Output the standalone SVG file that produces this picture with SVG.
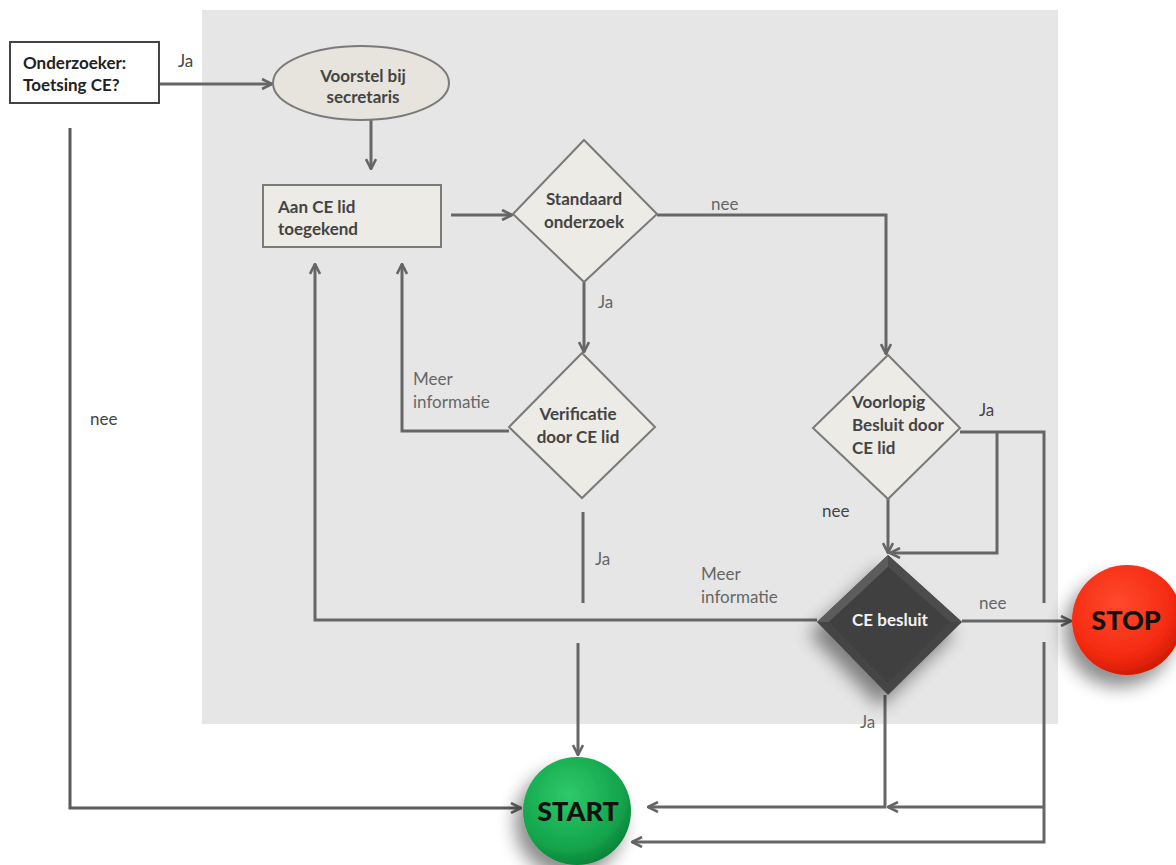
<svg xmlns="http://www.w3.org/2000/svg" width="1176" height="865" viewBox="0 0 1176 865">
<defs>
<marker id="arr" viewBox="0 0 12 12" refX="11" refY="6" markerWidth="12" markerHeight="12" markerUnits="userSpaceOnUse" orient="auto">
<path d="M1,1 L11,6 L1,11" fill="none" stroke="#666" stroke-width="2.6" stroke-linejoin="miter"/>
</marker>
<radialGradient id="gGreen" cx="0.42" cy="0.35" r="0.7">
<stop offset="0" stop-color="#2ec96a"/>
<stop offset="0.7" stop-color="#14a54c"/>
<stop offset="1" stop-color="#0b7d36"/>
</radialGradient>
<radialGradient id="gRed" cx="0.42" cy="0.35" r="0.7">
<stop offset="0" stop-color="#ff4a2e"/>
<stop offset="0.7" stop-color="#f42a10"/>
<stop offset="1" stop-color="#c81800"/>
</radialGradient>
<filter id="shadow" x="-50%" y="-50%" width="200%" height="200%">
<feGaussianBlur in="SourceAlpha" stdDeviation="9"/>
<feOffset dx="-8" dy="12" result="b"/>
<feComponentTransfer><feFuncA type="linear" slope="0.45"/></feComponentTransfer>
<feMerge><feMergeNode/><feMergeNode in="SourceGraphic"/></feMerge>
</filter>
</defs>
<style>
.line{fill:none;stroke:#666;stroke-width:3}
.arrow{marker-end:url(#arr)}
.node{fill:#ecebe6;stroke:#7a7a7a;stroke-width:2}
.nt{font-family:Lato,"Liberation Sans",sans-serif;font-weight:bold;font-size:17px;fill:#444}
.lbl{font-family:Lato,"Liberation Sans",sans-serif;font-size:17px;fill:#666}
.big{font-family:Lato,"Liberation Sans",sans-serif;font-weight:900;font-size:27px;fill:#111;text-anchor:middle}
</style>
<rect x="0" y="0" width="1176" height="865" fill="#ffffff"/>
<rect id="panel" x="202" y="10" width="856" height="714" fill="#e6e6e6"/>

<g id="connectors">
<path class="line arrow" d="M159,84 L272,84"/>
<path class="line arrow" d="M371,120 L371,169"/>
<path class="line arrow" d="M451,215 L512,215"/>
<path class="line arrow" d="M657,215 L886,215 L886,354"/>
<path class="line arrow" d="M584,282 L584,352"/>
<path class="line arrow" d="M509,431 L402,431 L402,264"/>
<path class="line" d="M583,512 L583,603"/>
<path class="line arrow" d="M578,643 L578,755"/>
<path class="line arrow" d="M817,620 L315,620 L315,264"/>
<path class="line arrow" d="M888,499 L888,553"/>
<path class="line" d="M960,432 L1044,432 L1044,603"/>
<path class="line arrow" d="M997,432 L997,553 L890,553"/>
<path class="line arrow" d="M1044,642 L1044,842 L632,842"/>
<path class="line arrow" d="M962,621 L1071,621"/>
<path class="line arrow" d="M885,695 L885,807 L648,807"/>
<path class="line arrow" d="M1044,807 L888,807"/>
<path class="line arrow" d="M70,128 L70,808 L521,808" style="stroke:#5a5a5a"/>
</g>

<g id="labels">
<text class="lbl" x="178" y="67" style="fill:#444">Ja</text>
<text class="lbl" x="711" y="210">nee</text>
<text class="lbl" x="598" y="308">Ja</text>
<text class="lbl" x="413" y="385">Meer</text>
<text class="lbl" x="413" y="408">informatie</text>
<text class="lbl" x="595" y="565">Ja</text>
<text class="lbl" x="979" y="416" style="fill:#444">Ja</text>
<text class="lbl" x="822" y="517" style="fill:#444">nee</text>
<text class="lbl" x="701" y="580">Meer</text>
<text class="lbl" x="701" y="603">informatie</text>
<text class="lbl" x="979" y="609">nee</text>
<text class="lbl" x="860" y="728">Ja</text>
<text class="lbl" x="90" y="425" style="fill:#444">nee</text>
</g>

<g id="onderzoeker">
<rect x="10" y="42" width="149" height="61" fill="#ffffff" stroke="#444" stroke-width="2"/>
<text class="nt" x="23" y="69" style="fill:#222">Onderzoeker:</text>
<text class="nt" x="23" y="91" style="fill:#222">Toetsing CE?</text>
</g>

<g id="voorstel">
<ellipse class="node" cx="361" cy="83" rx="88" ry="37" style="fill:#e6e4dc"/>
<text class="nt" x="363" y="82" text-anchor="middle">Voorstel bij</text>
<text class="nt" x="363" y="103" text-anchor="middle">secretaris</text>
</g>

<g id="aan-ce-lid">
<rect class="node" x="263" y="185" width="178" height="62"/>
<text class="nt" x="278" y="213">Aan CE lid</text>
<text class="nt" x="278" y="235">toegekend</text>
</g>

<g id="standaard">
<polygon class="node" points="584,140 657,214 584,282 513,214"/>
<text class="nt" x="584" y="205" text-anchor="middle">Standaard</text>
<text class="nt" x="584" y="228" text-anchor="middle">onderzoek</text>
</g>

<g id="verificatie">
<polygon class="node" points="582,353 655,427 582,498 509,427"/>
<text class="nt" x="578" y="420" text-anchor="middle">Verificatie</text>
<text class="nt" x="578" y="443" text-anchor="middle">door CE lid</text>
</g>

<g id="voorlopig">
<polygon class="node" points="888,355 960,428 888,499 813,428"/>
<text class="nt" x="852" y="408">Voorlopig</text>
<text class="nt" x="852" y="431">Besluit door</text>
<text class="nt" x="852" y="454">CE lid</text>
</g>

<g id="ce-besluit">
<polygon points="888,555 962,622 888,695 817,622" fill="#454545" filter="url(#shadow)"/>
<polygon points="888,555 817,622 829,622 888,567" fill="#5c5c5c"/>
<polygon points="888,555 962,622 950,622 888,567" fill="#4c4c4c"/>
<polygon points="888,567 950,622 888,683 829,622" fill="#404040"/>
<text class="nt" x="890" y="626" text-anchor="middle" style="fill:#f2f2f2">CE besluit</text>
</g>

<g id="start">
<circle cx="577" cy="811" r="54" fill="url(#gGreen)" filter="url(#shadow)"/>
<text class="big" x="578" y="821">START</text>
</g>

<g id="stop">
<circle cx="1127" cy="620" r="55" fill="url(#gRed)" filter="url(#shadow)"/>
<text class="big" x="1126" y="630">STOP</text>
</g>
</svg>
